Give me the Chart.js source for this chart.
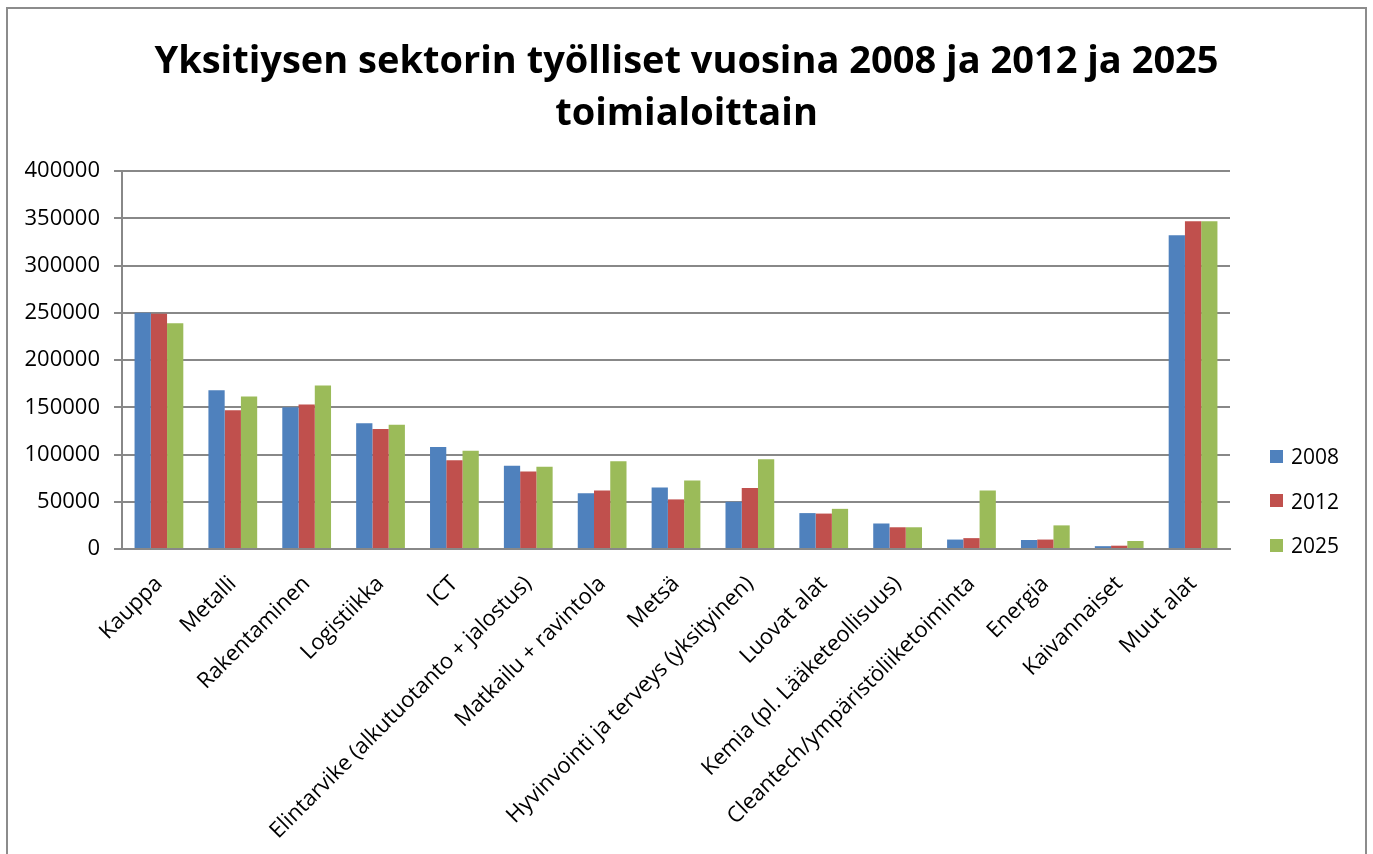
<!DOCTYPE html>
<html>
<head>
<meta charset="utf-8">
<title>Yksitiysen sektorin työlliset</title>
<style>
  body { margin: 0; background: #fff; }
  #wrap { position: relative; width: 1373px; height: 854px; overflow: hidden; }
  #legend { position: absolute; left: 1270px; top: 434px; font: 21px "Open Sans"; color: #000; }
  #legend .row { display: flex; align-items: center; height: 44.5px; }
  #legend .box { width: 13px; height: 13px; margin-right: 8px; }
</style>
<script src="https://cdn.jsdelivr.net/npm/chart.js"></script>
</head>
<body>
<div id="wrap">
  <canvas id="chart" width="1373" height="854"></canvas>
  <div id="legend"></div>
</div>
<script>
const categories = [
  "Kauppa", "Metalli", "Rakentaminen", "Logistiikka", "ICT",
  "Elintarvike (alkutuotanto + jalostus)", "Matkailu + ravintola", "Metsä",
  "Hyvinvointi ja terveys (yksityinen)", "Luovat alat",
  "Kemia (pl. Lääketeollisuus)", "Cleantech/ympäristöliiketoiminta",
  "Energia", "Kaivannaiset", "Muut alat"
];
const years = ["2008", "2012", "2025"];
const values2008 = [250000, 168000, 150000, 133000, 108000, 88000, 59000, 65000, 50000, 38000, 27000, 10000, 9500, 3000, 332000];
const values2012 = [249000, 147000, 153000, 127000, 94000, 82000, 62000, 52500, 64500, 37500, 23000, 11500, 10000, 3500, 347000];
const values2025 = [239000, 161500, 173000, 131500, 104000, 87000, 93000, 72500, 95000, 42500, 23000, 62000, 25000, 8500, 347000];
const yTicks = [0, 50000, 100000, 150000, 200000, 250000, 300000, 350000, 400000];
const colors = ["#4F81BD", "#C0504D", "#9BBB59"];

const series = [values2008, values2012, values2025];

// gray frame round the whole chart, like the Excel chart object
const frame = {
  id: "frame",
  beforeDraw(chart) {
    const ctx = chart.ctx;
    ctx.save();
    ctx.strokeStyle = "#8c8c8c";
    ctx.lineWidth = 2;
    ctx.strokeRect(7, 8, 1359, 900);
    ctx.restore();
  }
};

new Chart(document.getElementById("chart"), {
  type: "bar",
  data: {
    labels: categories,
    datasets: series.map((data, i) => ({
      label: years[i],
      data,
      backgroundColor: colors[i],
      borderWidth: 0,
      categoryPercentage: 0.66,
      barPercentage: 1
    }))
  },
  options: {
    responsive: false,
    animation: false,
    layout: { padding: 0 },
    plugins: {
      legend: { display: false },
      tooltip: { enabled: false },
      title: {
        display: true,
        text: ["Yksitiysen sektorin työlliset vuosina 2008 ja 2012 ja 2025", "toimialoittain"],
        color: "#000",
        font: { family: "Open Sans", size: 38, weight: "bold", lineHeight: 1.37 },
        padding: { top: 36, bottom: 31 }
      }
    },
    scales: {
      y: {
        min: 0,
        max: 400000,
        afterBuildTicks: s => { s.ticks = yTicks.map(v => ({ value: v })); },
        afterFit: s => { s.width = 122; },
        ticks: {
          callback: v => String(v),
          color: "#000",
          font: { family: "Open Sans", size: 22 },
          padding: 14
        },
        grid: { color: "#888888", lineWidth: 2, tickLength: 8 },
        border: { color: "#888888", width: 2 }
      },
      // empty right-hand strip that leaves room for the legend
      side: {
        type: "linear",
        position: "right",
        display: true,
        afterFit: s => { s.width = 143; },
        ticks: { display: false },
        grid: { display: false },
        border: { display: false }
      },
      x: {
        afterFit: s => { s.height = 305; },
        ticks: {
          minRotation: 45,
          maxRotation: 45,
          autoSkip: false,
          color: "#000",
          font: { family: "Open Sans", size: 22 },
          padding: 14
        },
        grid: { display: false },
        border: { color: "#888888", width: 2 }
      }
    }
  },
  plugins: [frame]
});

const legend = document.getElementById("legend");
years.forEach((y, i) => {
  const row = document.createElement("div");
  row.className = "row";
  const box = document.createElement("span");
  box.className = "box";
  box.style.background = colors[i];
  const txt = document.createElement("span");
  txt.textContent = y;
  row.append(box, txt);
  legend.appendChild(row);
});
</script>
</body>
</html>
